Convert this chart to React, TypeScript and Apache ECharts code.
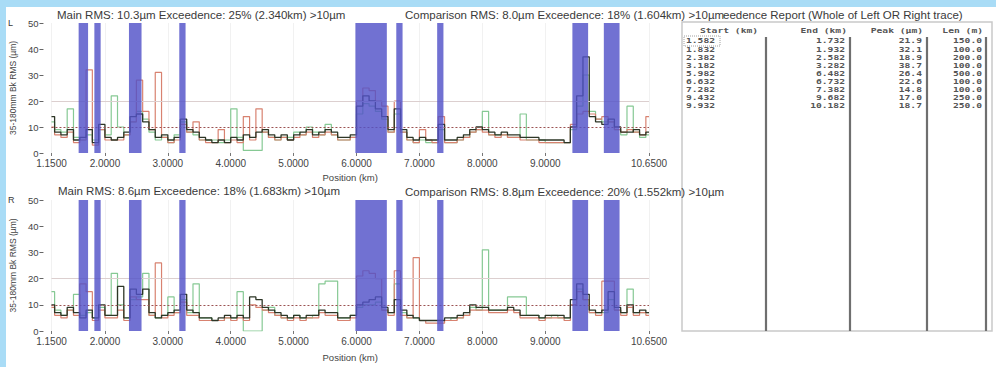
import React, { useEffect, useRef } from 'react';
import * as echarts from 'echarts';

// Sampling positions along the track (km)
const positionKm = [
  1.15, 1.25, 1.35, 1.45, 1.55, 1.65, 1.75, 1.85, 1.95, 2.05,
  2.15, 2.25, 2.35, 2.45, 2.55, 2.65, 2.75, 2.85, 2.95, 3.05,
  3.15, 3.25, 3.35, 3.45, 3.55, 3.65, 3.75, 3.85, 3.95, 4.05,
  4.15, 4.25, 4.35, 4.45, 4.55, 4.65, 4.75, 4.85, 4.95, 5.05,
  5.15, 5.25, 5.35, 5.45, 5.55, 5.65, 5.75, 5.85, 5.95, 6.05,
  6.15, 6.25, 6.35, 6.45, 6.55, 6.65, 6.75, 6.85, 6.95, 7.05,
  7.15, 7.25, 7.35, 7.45, 7.55, 7.65, 7.75, 7.85, 7.95, 8.05,
  8.15, 8.25, 8.35, 8.45, 8.55, 8.65, 8.75, 8.85, 8.95, 9.05,
  9.15, 9.25, 9.35, 9.45, 9.55, 9.65, 9.75, 9.85, 9.95, 10.05,
  10.15, 10.25, 10.35, 10.45, 10.55, 10.65,
];

// Left rail (L) traces, µm
const leftMain = [
  14, 8, 7, 9, 5, 6, 9, 4, 11, 6,
  5, 6, 8, 14, 15, 12, 9, 6, 7, 5,
  6, 13, 9, 8, 6, 5, 4, 5, 4, 6,
  5, 7, 6, 8, 9, 7, 6, 7, 5, 7,
  8, 9, 7, 8, 9, 8, 6, 6, 7, 18,
  22, 20, 17, 14, 9, 17, 9, 6, 5, 6,
  5, 5, 11, 5, 5, 6, 7, 9, 10, 9,
  8, 7, 8, 7, 7, 6, 6, 6, 5, 5,
  5, 5, 4, 10, 22, 37, 14, 12, 11, 13,
  10, 8, 8, 9, 7, 8,
];
const leftGreen = [
  12, 9, 8, 17, 6, 5, 7, 5, 9, 7,
  22, 10, 7, 12, 16, 13, 8, 5, 6, 4,
  7, 12, 8, 7, 5, 5, 5, 4, 5, 17,
  6, 1, 1, 1, 8, 6, 5, 6, 6, 8,
  7, 10, 8, 7, 11, 7, 5, 5, 6, 15,
  19, 18, 16, 13, 8, 15, 8, 5, 4, 5,
  4, 4, 9, 4, 4, 5, 6, 8, 9, 16,
  7, 7, 7, 6, 6, 15, 5, 5, 5, 4,
  4, 4, 4, 9, 18, 30, 16, 13, 12, 12,
  9, 7, 18, 8, 6, 7,
];
const leftRed = [
  10, 7, 6, 8, 4, 5, 32, 3, 9, 5,
  5, 5, 7, 12, 28, 16, 9, 31, 6, 4,
  5, 11, 8, 12, 5, 4, 4, 9, 4, 5,
  4, 14, 5, 17, 8, 6, 5, 6, 5, 6,
  7, 8, 6, 7, 8, 7, 5, 5, 6, 20,
  25, 24, 20, 18, 8, 20, 8, 5, 4, 9,
  5, 4, 14, 4, 4, 5, 6, 8, 9, 8,
  7, 6, 7, 6, 6, 5, 5, 5, 4, 4,
  4, 4, 4, 11, 15, 16, 15, 13, 14, 12,
  9, 8, 9, 8, 7, 14,
];

// Right rail (R) traces, µm
const rightMain = [
  10, 7, 6, 9, 7, 5, 8, 5, 10, 6,
  6, 17, 5, 16, 14, 16, 7, 5, 6, 7,
  8, 14, 8, 7, 5, 5, 4, 5, 6, 5,
  6, 5, 13, 12, 9, 8, 7, 6, 5, 6,
  5, 6, 6, 8, 7, 7, 5, 5, 6, 10,
  11, 12, 13, 9, 7, 12, 8, 6, 5, 4,
  4, 4, 4, 5, 5, 6, 7, 10, 9, 9,
  8, 8, 8, 9, 8, 6, 6, 6, 5, 6,
  6, 6, 5, 12, 18, 14, 8, 7, 8, 15,
  9, 7, 10, 7, 8, 7,
];
const rightGreen = [
  15, 8, 6, 8, 14, 6, 7, 5, 9, 6,
  22, 10, 5, 12, 13, 22, 6, 5, 6, 13,
  7, 12, 7, 18, 5, 5, 4, 4, 5, 5,
  15, 0, 0, 0, 8, 9, 6, 5, 5, 6,
  5, 5, 6, 18, 19, 19, 5, 5, 6, 9,
  10, 10, 11, 8, 7, 18, 7, 5, 5, 4,
  4, 4, 4, 4, 5, 5, 6, 9, 8, 31,
  8, 8, 8, 13, 13, 13, 6, 6, 5, 5,
  6, 5, 5, 10, 16, 12, 7, 7, 7, 12,
  8, 7, 16, 7, 7, 7,
];
const rightRed = [
  9, 6, 5, 8, 6, 18, 15, 4, 8, 5,
  5, 8, 4, 13, 12, 12, 6, 26, 5, 6,
  7, 11, 6, 6, 4, 4, 4, 4, 5, 4,
  5, 4, 10, 9, 8, 7, 6, 5, 4, 5,
  4, 5, 5, 7, 6, 6, 4, 4, 5, 21,
  23, 22, 20, 8, 6, 23, 6, 5, 28, 4,
  3, 3, 3, 4, 4, 5, 6, 8, 8, 8,
  7, 7, 7, 8, 7, 5, 5, 5, 4, 5,
  5, 5, 4, 10, 15, 12, 7, 6, 19, 19,
  8, 6, 9, 6, 7, 6,
];

// Exceedence report
const bandStartKm = [1.582, 1.832, 2.382, 3.182, 5.982, 6.632, 7.282, 9.432, 9.932];
const bandEndKm = [1.732, 1.932, 2.582, 3.282, 6.482, 6.732, 7.382, 9.682, 10.182];
const bandPeakUm = [21.9, 32.1, 18.9, 38.7, 26.4, 22.6, 14.8, 17.0, 18.7];
const bandLenM = [150.0, 100.0, 200.0, 100.0, 500.0, 100.0, 100.0, 250.0, 250.0];

const xLabelKm = [1.15, 2, 3, 4, 5, 6, 7, 8, 9, 10.65];
const exceedLimitUm = 10;
const referenceUm = 20;

const leftMainTitle = 'Main RMS: 10.3µm Exceedence: 25% (2.340km) >10µm';
const leftCompTitle = 'Comparison RMS: 8.0µm Exceedence: 18% (1.604km) >10µm';
const rightMainTitle = 'Main RMS: 8.6µm Exceedence: 18% (1.683km) >10µm';
const rightCompTitle = 'Comparison RMS: 8.8µm Exceedence: 20% (1.552km) >10µm';
const reportTitle = 'eedence Report (Whole of Left OR Right trace)';
const reportHeaders = ['Start (km)', 'End (km)', 'Peak (µm)', 'Len (m)'];

const SANS = '"Liberation Sans", Arial, sans-serif';
const MONO = '"DejaVu Sans Mono", monospace';

function pairs(ys: number[]) {
  return positionKm.map((x, i) => [x, ys[i]]);
}

function buildOption() {
  const grids = [
    { left: 49, top: 23, width: 600, height: 130 },
    { left: 49, top: 200, width: 600, height: 131 },
  ];
  const xAxes = [0, 1].map((k) => ({
    type: 'value',
    gridIndex: k,
    min: 1.15,
    max: 10.65,
    axisLine: { show: false },
    axisTick: { show: true, customValues: xLabelKm, length: 3, lineStyle: { color: '#777' } },
    axisLabel: {
      customValues: xLabelKm,
      formatter: (v: number) => v.toFixed(4),
      fontSize: 10,
      fontFamily: SANS,
      color: '#444',
      margin: 5,
    },
    splitLine: { show: true, lineStyle: { color: '#f1f1f1', width: 1 } },
    name: 'Position (km)',
    nameLocation: 'middle',
    nameGap: k === 0 ? 19 : 21,
    nameTextStyle: { fontSize: 9.5, fontFamily: SANS, color: '#444' },
  }));
  const yAxes = [0, 1].map((k) => ({
    type: 'value',
    gridIndex: k,
    min: 0,
    max: 50,
    interval: 10,
    offset: 8,
    axisLine: { show: false },
    axisTick: { show: true, length: 4, lineStyle: { color: '#666' } },
    axisLabel: { fontSize: 9.5, fontFamily: SANS, color: '#444', margin: 5 },
    splitLine: { show: false },
    name: '35-180mm Bk RMS (µm)',
    nameLocation: 'middle',
    nameGap: 15,
    nameRotate: 90,
    nameTextStyle: { fontSize: 8.5, fontFamily: SANS, color: '#444' },
  }));

  const traceSets = [
    [leftGreen, leftRed, leftMain],
    [rightGreen, rightRed, rightMain],
  ];
  const colors = ['#86c994', '#d88270', '#2d3626'];
  const series: any[] = [];
  traceSets.forEach((set, k) => {
    set.forEach((ys, j) => {
      const s: any = {
        type: 'line',
        xAxisIndex: k,
        yAxisIndex: k,
        data: pairs(ys),
        step: 'middle',
        symbol: 'none',
        silent: true,
        z: 2 + j,
        lineStyle: { color: colors[j], width: j === 2 ? 1.3 : 1.2 },
      };
      if (j === 2) {
        s.markLine = {
          silent: true,
          symbol: 'none',
          label: { show: false },
          data: [
            { yAxis: referenceUm, lineStyle: { color: '#dccfcf', type: 'solid', width: 1 } },
            { yAxis: exceedLimitUm, lineStyle: { color: '#9b5252', type: [2, 2], width: 1 } },
          ],
        };
      }
      series.push(s);
    });
    series.push({
      type: 'custom',
      xAxisIndex: k,
      yAxisIndex: k,
      z: 10,
      silent: true,
      data: bandStartKm.map((s, i) => [s, bandEndKm[i]]),
      encode: { x: [0, 1] },
      renderItem: (params: any, api: any) => {
        const a = api.coord([api.value(0), 50]);
        const b = api.coord([api.value(1), 0]);
        return {
          type: 'rect',
          shape: { x: a[0], y: a[1], width: b[0] - a[0], height: b[1] - a[1] },
          style: { fill: 'rgba(82,82,200,0.82)' },
        };
      },
    });
  });

  const txt = (
    text: string,
    x: number,
    y: number,
    font: string,
    align = 'left',
    fill = '#3a3a3a',
    scaleX = 1
  ) => ({
    type: 'text',
    x,
    y,
    scaleX,
    z: 20,
    silent: true,
    style: {
      text,
      font,
      fill,
      align,
      verticalAlign: 'middle',
      textAlign: align,
      textVerticalAlign: 'middle',
    },
  });

  const graphics: any[] = [];
  // side labels
  graphics.push(txt('L', 8, 23, `9px ${SANS}`));
  graphics.push(txt('R', 8, 200, `9px ${SANS}`));
  // titles
  graphics.push(txt(leftMainTitle, 57, 15, `11.5px ${SANS}`));
  graphics.push(txt(rightMainTitle, 58, 191, `11.5px ${SANS}`));
  graphics.push(txt(reportTitle, 723, 15, `11.5px ${SANS}`));
  graphics.push(txt(leftCompTitle, 405, 15, `11.5px ${SANS}`));
  graphics.push(txt(rightCompTitle, 405, 192, `11.5px ${SANS}`));

  // report table box
  graphics.push({
    type: 'rect',
    z: 15,
    silent: true,
    shape: { x: 682, y: 22, width: 310, height: 309 },
    style: { fill: '#ffffff', stroke: '#c9c9c9', lineWidth: 1.5 },
  });
  const dividers = [766, 850, 927, 986];
  dividers.forEach((dx) => {
    graphics.push({
      type: 'line',
      z: 16,
      silent: true,
      shape: { x1: dx, y1: 37, x2: dx, y2: 331 },
      style: { stroke: '#6f6f6f', lineWidth: 2.2 },
    });
  });
  const tFont = `bold 7px ${MONO}`;
  const tScale = 1.38;
  const tColor = '#555';
  graphics.push(txt(reportHeaders[0], 700, 31, tFont, 'left', tColor, tScale));
  graphics.push(txt(reportHeaders[1], 847, 31, tFont, 'right', tColor, tScale));
  graphics.push(txt(reportHeaders[2], 923, 31, tFont, 'right', tColor, tScale));
  graphics.push(txt(reportHeaders[3], 983, 31, tFont, 'right', tColor, tScale));
  bandStartKm.forEach((s, i) => {
    const y = 41 + i * 8.1;
    graphics.push(txt(s.toFixed(3), 686, y, tFont, 'left', tColor, tScale));
    graphics.push(txt(bandEndKm[i].toFixed(3), 845, y, tFont, 'right', tColor, tScale));
    graphics.push(txt(bandPeakUm[i].toFixed(1), 922, y, tFont, 'right', tColor, tScale));
    graphics.push(txt(bandLenM[i].toFixed(1), 982, y, tFont, 'right', tColor, tScale));
  });
  // focus rectangle around first cell
  graphics.push({
    type: 'rect',
    z: 17,
    silent: true,
    shape: { x: 684, y: 36, width: 36, height: 10 },
    style: { fill: 'none', stroke: '#888', lineWidth: 0.8, lineDash: [1, 1] },
  });

  return {
    animation: false,
    backgroundColor: 'transparent',
    grid: grids,
    xAxis: xAxes,
    yAxis: yAxes,
    series,
    graphic: { elements: graphics },
  };
}

export default function App() {
  const ref = useRef<HTMLDivElement>(null);
  useEffect(() => {
    if (!ref.current) return;
    const chart = echarts.init(ref.current, null, { renderer: 'svg', width: 996, height: 367 });
    chart.setOption(buildOption() as any);
    return () => chart.dispose();
  }, []);
  return (
    <div
      style={{
        position: 'fixed',
        left: 0,
        top: 0,
        width: 996,
        height: 367,
        background: '#a9dcf6',
        overflow: 'hidden',
      }}
    >
      <div style={{ position: 'absolute', left: 6, top: 7, right: 0, bottom: 0, background: '#ffffff' }} />
      <div ref={ref} style={{ position: 'absolute', left: 0, top: 0, width: 996, height: 367 }} />
    </div>
  );
}
